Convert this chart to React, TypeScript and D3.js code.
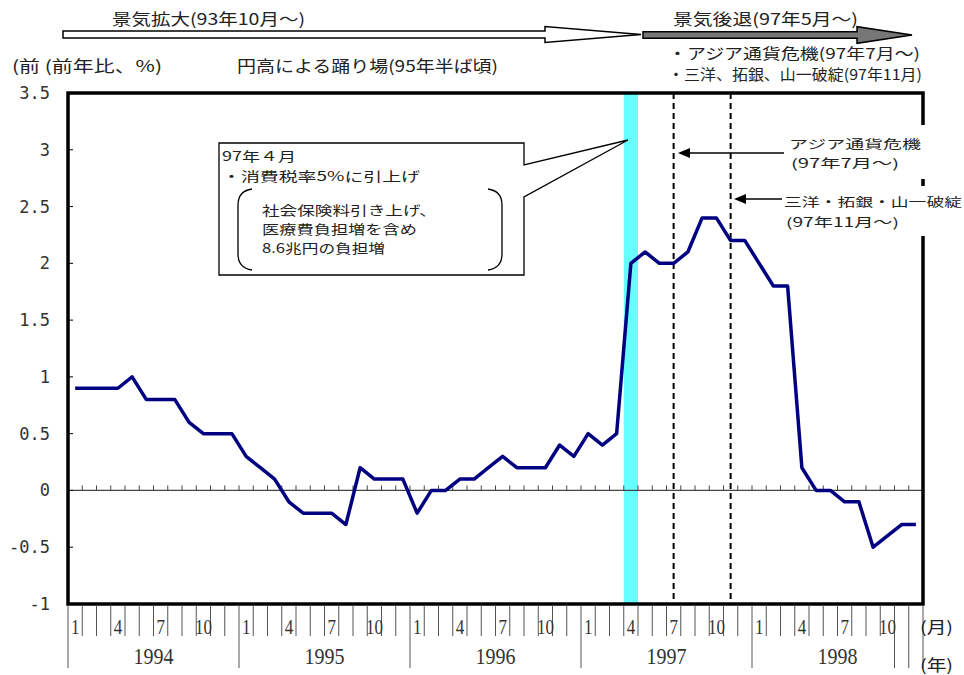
import React from "react";
import * as d3 from "d3";

const years = ["1994", "1995", "1996", "1997", "1998"];
const monthNums = [1, 2, 3, 4, 5, 6, 7, 8, 9, 10, 11, 12];
const labeledMonths = [1, 4, 7, 10];

const values1994 = [0.9, 0.9, 0.9, 0.9, 1.0, 0.8, 0.8, 0.8, 0.6, 0.5, 0.5, 0.5];
const values1995 = [0.3, 0.2, 0.1, -0.1, -0.2, -0.2, -0.2, -0.3, 0.2, 0.1, 0.1, 0.1];
const values1996 = [-0.2, 0.0, 0.0, 0.1, 0.1, 0.2, 0.3, 0.2, 0.2, 0.2, 0.4, 0.3];
const values1997 = [0.5, 0.4, 0.5, 2.0, 2.1, 2.0, 2.0, 2.1, 2.4, 2.4, 2.2, 2.2];
const values1998 = [2.0, 1.8, 1.8, 0.2, 0.0, 0.0, -0.1, -0.1, -0.5, -0.4, -0.3, -0.3];

const yTicks = [-1, -0.5, 0, 0.5, 1, 1.5, 2, 2.5, 3, 3.5];
const taxHikeMonth = "1997-04";
const crisisMonths = ["1997-07", "1997-11"];

const JP = "'Noto Sans CJK JP', 'Noto Sans', sans-serif";
const SERIF = "'Liberation Serif', 'DejaVu Serif', serif";

export default function App() {
  const series = [...values1994, ...values1995, ...values1996, ...values1997, ...values1998];
  const categories = years.flatMap((yr) => monthNums.map((m) => `${yr}-${String(m).padStart(2, "0")}`));

  const left = 68, right = 923, top = 93, bottom = 604;
  const x = d3.scaleBand<string>().domain(categories).range([left, right]).paddingInner(0).paddingOuter(0);
  const bw = x.bandwidth();
  const cx = (c: string) => (x(c) as number) + bw / 2;
  const y = d3.scaleLinear().domain([-1, 3.5]).range([bottom, top]);
  const y0 = y(0);

  const linePath = d3
    .line<number>()
    .x((_, i) => cx(categories[i]))
    .y((d) => y(d))(series) as string;

  const boundaries = d3.range(categories.length + 1).map((k) => left + k * bw);

  const fmt = (v: number) => String(v);

  const textC = "#222";

  return (
    <svg
      width={964}
      height={675}
      style={{ position: "absolute", left: 0, top: 0, background: "#fff" }}
      fontFamily={JP}
    >
      <rect x={0} y={0} width={964} height={675} fill="#fff" />

      {/* top arrows */}
      <path
        d="M63,31 L545,31 L545,26.5 L641,34.5 L545,42.5 L545,38 L63,38 Z"
        fill="#fff"
        stroke="#000"
        strokeWidth={1.5}
      />
      <path
        d="M643,31.7 L857,31.7 L857,26.7 L912,35 L857,43.3 L857,38.3 L643,38.3 Z"
        fill="#777"
        stroke="#000"
        strokeWidth={1.5}
      />
      <text x={112} y={25} fontSize={16} fill={textC} textLength={193} lengthAdjust="spacingAndGlyphs">
        景気拡大(93年10月～)
      </text>
      <text x={673} y={25} fontSize={16} fill={textC} textLength={185} lengthAdjust="spacingAndGlyphs">
        景気後退(97年5月～)
      </text>
      <text x={668} y={59} fontSize={15} fill={textC} textLength={252} lengthAdjust="spacingAndGlyphs">
        ・アジア通貨危機(97年7月～)
      </text>
      <text x={668} y={80} fontSize={15} fill={textC} textLength={254} lengthAdjust="spacingAndGlyphs">
        ・三洋、拓銀、山一破綻(97年11月)
      </text>
      <text x={12} y={72} fontSize={16} fill={textC} textLength={150} lengthAdjust="spacingAndGlyphs">
        (前 (前年比、%)
      </text>
      <text x={237} y={72} fontSize={16} fill={textC} textLength={261} lengthAdjust="spacingAndGlyphs">
        円高による踊り場(95年半ば頃)
      </text>

      {/* tax hike band */}
      <rect x={x(taxHikeMonth)} y={top} width={bw} height={bottom - top} fill="#66ffff" />

      {/* zero line with month ticks */}
      <line x1={left} x2={right} y1={y0} y2={y0} stroke="#444" strokeWidth={1.2} />
      {boundaries.slice(1, -1).map((bx, i) => (
        <line key={`zt${i}`} x1={bx} x2={bx} y1={y0 - 5} y2={y0} stroke="#444" strokeWidth={1} />
      ))}

      {/* dashed event lines */}
      {crisisMonths.map((m) => (
        <line
          key={m}
          x1={cx(m)}
          x2={cx(m)}
          y1={top}
          y2={bottom}
          stroke="#000"
          strokeWidth={2}
          strokeDasharray="6,4"
        />
      ))}

      {/* y ticks inward */}
      {yTicks
        .filter((t) => t !== -1 && t !== 3.5)
        .map((t) => (
          <line key={`yt${t}`} x1={left} x2={left + 5} y1={y(t)} y2={y(t)} stroke="#000" strokeWidth={1} />
        ))}
      {yTicks.map((t) => (
        <text
          key={`yl${t}`}
          x={50}
          y={y(t) + 6}
          fontSize={17}
          textAnchor="end"
          fontFamily="'DejaVu Sans Mono', monospace"
          fill="#333"
        >
          {fmt(t)}
        </text>
      ))}

      {/* data line */}
      <path d={linePath} fill="none" stroke="#000080" strokeWidth={3.5} strokeLinejoin="round" />

      {/* callout */}
      <path
        d="M524,165 L524,143 L219,143 L219,275 L524,275 L524,197 L628,140 Z"
        fill="#fff"
        stroke="#000"
        strokeWidth={1.3}
      />
      <text x={222} y={161} fontSize={13} fill={textC} textLength={74} lengthAdjust="spacingAndGlyphs">
        97年４月
      </text>
      <text x={222} y={181} fontSize={13} fill={textC} textLength={198} lengthAdjust="spacingAndGlyphs">
        ・消費税率5%に引上げ
      </text>
      <path d="M252,189 Q238,191 238,205 L238,254 Q238,268 252,270" fill="none" stroke="#000" strokeWidth={1.3} />
      <path d="M488,189 Q502,191 502,205 L502,254 Q502,268 488,270" fill="none" stroke="#000" strokeWidth={1.3} />
      <text x={262} y={215} fontSize={13} fill={textC} textLength={175} lengthAdjust="spacingAndGlyphs">
        社会保険料引き上げ、
      </text>
      <text x={262} y={234} fontSize={13} fill={textC} textLength={155} lengthAdjust="spacingAndGlyphs">
        医療費負担増を含め
      </text>
      <text x={262} y={253} fontSize={13} fill={textC} textLength={123} lengthAdjust="spacingAndGlyphs">
        8.6兆円の負担増
      </text>

      {/* plot border */}
      <rect x={left} y={top} width={right - left} height={bottom - top} fill="none" stroke="#000" strokeWidth={3.5} />

      {/* right annotations */}
      <rect x={786} y={125} width={178} height={54} fill="#fff" />
      <rect x={786} y={186} width={178} height={50} fill="#fff" />
      <line x1={784} x2={686} y1={153} y2={153} stroke="#000" strokeWidth={1.5} />
      <path d="M678,153 L690,148 L690,158 Z" fill="#000" />
      <line x1={782} x2={742} y1={199} y2={199} stroke="#000" strokeWidth={1.5} />
      <path d="M734,199 L746,194 L746,204 Z" fill="#000" />
      <text x={789} y={149} fontSize={12.5} fill={textC} textLength={132} lengthAdjust="spacingAndGlyphs">
        アジア通貨危機
      </text>
      <text x={791} y={168} fontSize={12.5} fill={textC} textLength={108} lengthAdjust="spacingAndGlyphs">
        (97年7月～)
      </text>
      <text x={784} y={207} fontSize={12.5} fill={textC} textLength={178} lengthAdjust="spacingAndGlyphs">
        三洋・拓銀・山一破綻
      </text>
      <text x={786} y={227} fontSize={12.5} fill={textC} textLength={113} lengthAdjust="spacingAndGlyphs">
        (97年11月～)
      </text>

      {/* bottom axis */}
      {boundaries.map((bx, k) => {
        const full = k % 12 === 0 || k >= 58;
        return (
          <line key={`bl${k}`} x1={bx} x2={bx} y1={bottom + 1} y2={full ? 668 : 636} stroke="#555" strokeWidth={1} />
        );
      })}
      {categories.map((c, i) => {
        const m = monthNums[i % 12];
        if (!labeledMonths.includes(m)) return null;
        const s = String(m);
        return (
          <text
            key={`ml${c}`}
            x={cx(c)}
            y={634}
            fontSize={22}
            textAnchor="middle"
            fontFamily={SERIF}
            fill="#333"
            textLength={s.length * 8.5}
            lengthAdjust="spacingAndGlyphs"
          >
            {s}
          </text>
        );
      })}
      {years.map((yr) => {
        const x0 = x(`${yr}-01`) as number;
        return (
          <text
            key={`yr${yr}`}
            x={x0 + bw * 6}
            y={664}
            fontSize={23}
            textAnchor="middle"
            fontFamily={SERIF}
            fill="#333"
            textLength={40}
            lengthAdjust="spacingAndGlyphs"
          >
            {yr}
          </text>
        );
      })}
      <text x={920} y={633} fontSize={16} fill={textC} textLength={33} lengthAdjust="spacingAndGlyphs">
        (月)
      </text>
      <text x={920} y={671} fontSize={16} fill={textC} textLength={33} lengthAdjust="spacingAndGlyphs">
        (年)
      </text>
    </svg>
  );
}
